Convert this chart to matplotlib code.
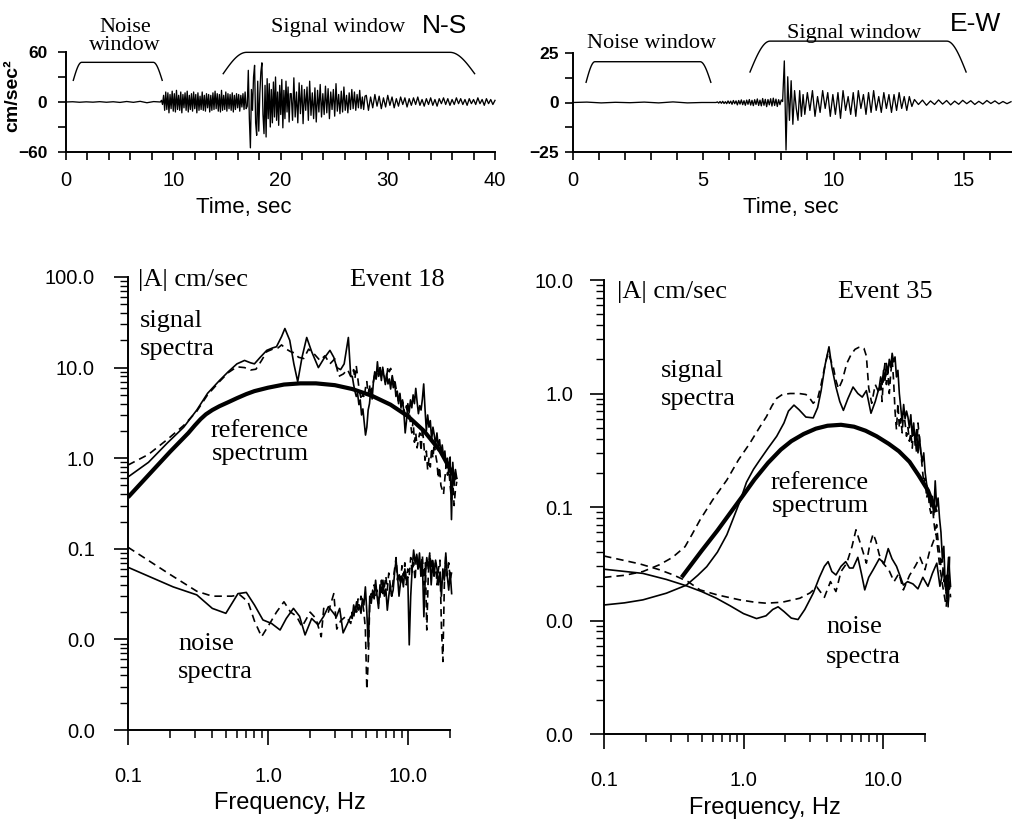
import numpy as np
import matplotlib
matplotlib.use("Agg")
import matplotlib.pyplot as plt
from matplotlib.ticker import FixedLocator, FormatStrFormatter, NullFormatter

# ----------------------------------------------------------------- data
# N-S accelerogram (cm/sec^2): segments [t_start, t_end] with read values
ns_seg_t = [(0.0, 8.8), (8.8, 16.9), (16.9, 21.0), (21.0, 28.0), (28.0, 40.0)]
ns_seg_v = [
    [0, 0.3, -0.3, 0.2, -0.2, 0.4, -0.3, 0.3, -0.5, 0.6, -0.4, 0.8, -0.9, 0.5],
    [0, 2, -3, 8, -10, 12, -9, 11, -13, 9, -8, 13, -11, 10, -12, 14, -9, 8, -10, 12,
     -13, 9, -7, 11, -10, 13, -12, 8, -9, 10, -11, 12, -8, 9, -13, 11, -10, 7, -9, 12,
     -10, 8, -11, 10, -7, 9, -12, 8, -10, 11, -9, 13, -8, 10, -11, 9, -12, 14, -10, 8,
     -9, 12, -11, 10, -8, 9, -10, 11, -12, 8, -9, 10, -7, 9, -11, 8, -6, 10, -9, 12, -8],
    [-5, 38, -20, -55, 15, -10, 30, 44, -25, -40, 25, -35, 10, 36, 47, -15, -38, 20,
     -42, 28, -20, 22, -30, 15, -25, 24, -18, 30, -22, 12, -28, 20, -15, 27, -31, 14,
     -20, 25, -12, 18, -24, 10],
    [10, -22, 29, -18, 12, -25, 23, -14, 20, -26, 15, -10, 18, -22, 25, -16, 11, -20,
     17, -24, 14, -12, 21, -18, 10, -15, 19, -13, 16, -20, 12, -9, 15, -17, 22, -11, 9,
     -14, 13, -12, 18, -10, 8, -13, 11, -9, 15, -8, 12, -10, 9, -7, 14, -8, 6, -9, 7],
    [8, -10, 6, -7, 9, -5, 7, -8, 5, -6, 8, -4, 6, -7, 4, -5, 6, -3, 5, -6, 4, -4, 5,
     -3, 6, -4, 3, -5, 4, -3, 5, -4, 3, -5, 4, -2, 5, -3, 4, -4, 3, -3, 5, -2, 4, -3,
     3, -4, 4, -2, 3, -3, 5, -2, 3, -4, 4, -2, 3, -3, 2],
]
# E-W accelerogram
ew_seg_t = [(0.0, 5.5), (5.5, 8.05), (8.05, 8.9), (8.9, 13.1), (13.1, 16.8)]
ew_seg_v = [
    [0, 0.2, -0.2, 0.1, -0.1, 0.2, -0.2, 0.3, -0.2, 0],
    [0, .3, -.3, .5, -.4, .6, -.5, .4, -.6, .8, -.5, .7, -.9, 1.0, -.6, .8, -1.2, 1.0,
     -.8, 1.3, -1.1, .9, -1.4, 1.2, -.9, 1.5, -1.3, 1.1, -1.6, 1.4, -1.0, 1.8, -1.5,
     1.2, -1.7, 2.0, -1.4, 1.6, -2.1, 1.5, -1.2, 1.9, -1.8, 2.2, -1.5, 1.7, -2.0, 1.4,
     -1.1, 1.3],
    [0.5, 21, -24, 13, -9, 11, -11, 6, -3, -9, 6, -7, 4],
    [-6, 5, -4, 6, -7, 3, -5, 6, -3, 5, -7, 4, -6, 5, -8, 6, -4, 3, -6, 5, -7, 6, -3,
     4, -6, 5, -5, 6, -4, 3, -5, 5, -3, 4, -5, 4, -4, 5, -3, 3, -4, 3, -2],
    [1.5, -1, 1.2, -1.4, 0.8, -1, 1.3, -0.8, 1, -1.2, 0.7, -0.9, 1.1, -0.6, 0.9, -1,
     0.6, -0.8, 1, -0.5, 0.8, -0.7, 0.5, -0.6, 0.4],
]
# taper windows: (t_start, t_top_start, t_top_end, t_end, low, high)
ns_noise_win = (0.68, 1.46, 8.14, 8.97, 26.0, 47.6)
ns_signal_win = (14.66, 16.84, 35.8, 38.1, 34.0, 59.6)
ew_noise_win = (0.52, 0.86, 4.89, 5.3, 10.2, 20.6)
ew_signal_win = (6.8, 7.57, 14.34, 15.08, 15.4, 31.0)

# ---- Event 18 spectra
ref18_f = [0.1, 0.15, 0.2, 0.27, 0.3, 0.33, 0.36, 0.4, 0.45, 0.52, 0.6, 0.7, 0.8, 1.0,
           1.3, 1.7, 2.2, 3.0, 4.0, 5.5, 7.5, 10, 13, 17, 22]
ref18_a = [0.37, 0.73, 1.18, 1.9, 2.3, 2.7, 3.05, 3.4, 3.75, 4.15, 4.6, 5.1, 5.5, 6.0,
           6.5, 6.7, 6.7, 6.4, 5.8, 4.9, 3.9, 2.9, 2.0, 1.2, 0.58]

sig18_solid_f = [0.1, 0.14, 0.19, 0.25, 0.31, 0.37, 0.45, 0.52, 0.6, 0.68, 0.75, 0.8,
                 0.88, 0.98, 1.08, 1.15, 1.25, 1.32, 1.43, 1.53, 1.63, 1.75, 1.89,
                 2.05, 2.29, 2.5, 2.77, 2.95, 3.1, 3.3, 3.5, 3.75, 3.9]
sig18_solid_a = [0.62, 0.9, 1.46, 2.2, 3.4, 5.2, 7.2, 9.0, 11.0, 12.0, 11.3, 11.0,
                 13.0, 15.5, 16.5, 17.0, 22.0, 27.0, 20.0, 11.0, 7.0, 13.0, 21.5,
                 15.0, 10.0, 12.5, 15.5, 13.0, 10.0, 9.5, 11.0, 21.5, 8.0]
sig18_solid_hi = [8, 6.5, 5.5, 4.8, 5.2, 3.9, 4.4, 3.0, 3.5, 2.5,
                  1.8, 2.2, 3.4, 4.0, 5.7, 4.5, 7.0, 9.0, 7.5, 11.6,
                  8.0, 9.5, 7.2, 10.1, 8.0, 6.5, 8.5, 6.6, 7.5, 5.8,
                  7.9, 6.0, 7.0, 4.8, 5.5, 4.0, 5.2, 3.8, 4.4, 3.2,
                  1.9, 2.6, 4.0, 3.2, 4.4, 3.6, 5.0, 4.0, 5.9, 4.2,
                  3.1, 3.8, 3.4, 4.5, 6.6, 3.5, 2.0, 3.0, 2.2, 2.6,
                  1.6, 2.2, 1.8, 1.4, 1.9, 1.33, 1.6, 1.1, 1.4, 1.03,
                  1.2, 0.8, 1.0, 0.7, 1.03, 0.21, 0.9, 0.5, 0.75, 0.6]
sig18_dash_f = [0.1, 0.14, 0.19, 0.25, 0.31, 0.37, 0.45, 0.52, 0.6, 0.68, 0.75, 0.82,
                0.9, 0.98, 1.08, 1.18, 1.25, 1.35, 1.45, 1.55, 1.65, 1.8, 1.95, 2.15,
                2.35, 2.55, 2.77, 3.0, 3.2, 3.45, 3.7, 3.9]
sig18_dash_a = [0.84, 1.1, 1.6, 2.3, 3.3, 5.0, 7.0, 8.8, 10.2, 10.0, 9.4, 9.6, 12.0,
                15.0, 16.0, 16.5, 17.8, 16.0, 15.0, 14.5, 13.0, 12.6, 16.0, 14.0,
                12.0, 13.5, 11.0, 12.5, 8.0, 8.5, 9.5, 8.0]
sig18_dash_hi = [8.0, 9.5, 7.5, 10.5, 8.0, 6.0, 5.0, 4.4, 5.2, 4.6,
                 6.0, 7.0, 5.0, 6.5, 4.8, 6.2, 7.0, 8.5, 7.5, 9.0,
                 8.8, 10.0, 8.0, 9.5, 8.5, 7.0, 8.0, 10.3, 9.0, 9.8,
                 8.5, 7.0, 7.5, 6.0, 5.2, 4.0, 5.0, 3.4, 4.2, 3.5,
                 3.0, 3.8, 2.8, 3.3, 2.4, 1.9, 2.6, 1.5, 1.9, 1.3,
                 1.6, 1.9, 1.2, 2.2, 1.5, 0.95, 1.2, 0.74, 1.0, 0.8,
                 1.3, 1.0, 1.5, 1.1, 0.9, 0.6, 0.8, 0.5, 0.45, 0.4,
                 0.6, 0.85, 0.65, 0.75, 0.5, 0.35, 0.55, 0.3, 0.45, 0.55]
sig18_hi_band = (4.0, 22.3)

noi18_solid_f = [0.1, 0.21, 0.31, 0.4, 0.5, 0.61, 0.7, 0.8, 0.92, 1.06, 1.22, 1.35,
                 1.52, 1.68, 1.84, 2.05, 2.28, 2.5, 2.7, 2.9, 3.08, 3.25, 3.44, 3.7]
noi18_solid_a = [0.0625, 0.038, 0.031, 0.022, 0.0194, 0.032, 0.033, 0.024, 0.0164,
                 0.015, 0.0127, 0.017, 0.022, 0.018, 0.0112, 0.017, 0.0145, 0.018,
                 0.023, 0.02, 0.0177, 0.022, 0.0118, 0.015]
noi18_solid_hi = [0.018, 0.017, 0.024, 0.02, 0.026, 0.021, 0.023, 0.0194, 0.028, 0.024,
                  0.038, 0.02, 0.0083, 0.03, 0.025, 0.035, 0.028, 0.045, 0.03, 0.022,
                  0.04, 0.033, 0.045, 0.03, 0.036, 0.021, 0.03, 0.04, 0.03, 0.035,
                  0.055, 0.075, 0.05, 0.03, 0.042, 0.05, 0.038, 0.06, 0.045, 0.049,
                  0.0087, 0.03, 0.06, 0.097, 0.07, 0.085, 0.06, 0.09, 0.05, 0.07,
                  0.0178, 0.05, 0.08, 0.06, 0.085, 0.04, 0.07, 0.05, 0.075, 0.06,
                  0.04, 0.055, 0.03, 0.06, 0.045, 0.09, 0.05, 0.035, 0.055, 0.032]
noi18_dash_f = [0.1, 0.2, 0.31, 0.4, 0.55, 0.63, 0.72, 0.8, 0.9, 1.03, 1.15, 1.3,
                1.45, 1.6, 1.75, 2.0, 2.2, 2.4, 2.5, 2.7, 2.95, 3.1, 3.3, 3.6]
noi18_dash_a = [0.104, 0.052, 0.034, 0.03, 0.03, 0.031, 0.026, 0.016, 0.0107, 0.015,
                0.02, 0.026, 0.02, 0.018, 0.0138, 0.02, 0.017, 0.0107, 0.022, 0.02,
                0.032, 0.013, 0.016, 0.018]
noi18_dash_hi = [0.015, 0.02, 0.017, 0.024, 0.02, 0.028, 0.022, 0.03, 0.026, 0.02,
                 0.013, 0.0028, 0.006, 0.025, 0.032, 0.028, 0.04, 0.03, 0.035, 0.025,
                 0.03, 0.045, 0.032, 0.038, 0.05, 0.035, 0.054, 0.04, 0.03, 0.045,
                 0.06, 0.08, 0.045, 0.055, 0.04, 0.065, 0.05, 0.07, 0.04, 0.06,
                 0.05, 0.08, 0.055, 0.07, 0.045, 0.09, 0.06, 0.075, 0.05, 0.085,
                 0.04, 0.07, 0.0127, 0.05, 0.09, 0.06, 0.08, 0.05, 0.07, 0.04,
                 0.06, 0.075, 0.0138, 0.0057, 0.04, 0.085, 0.05, 0.07, 0.045, 0.055]
noi18_hi_band = (3.9, 20.5)

# ---- Event 35 spectra
ref35_f = [0.36, 0.5, 0.65, 0.8, 1.0, 1.2, 1.5, 1.85, 2.2, 2.7, 3.3, 4.0, 5.0, 6.2,
           7.5, 9.0, 11, 13, 15.5, 18, 21, 24]
ref35_a = [0.024, 0.041, 0.062, 0.088, 0.128, 0.175, 0.245, 0.32, 0.38, 0.44, 0.49,
           0.52, 0.53, 0.51, 0.47, 0.42, 0.36, 0.31, 0.25, 0.19, 0.14, 0.09]

sig35_solid_f = [0.1, 0.14, 0.19, 0.28, 0.39, 0.47, 0.545, 0.65, 0.76, 0.84, 0.95,
                 1.05, 1.18, 1.31, 1.5, 1.73, 1.95, 2.1, 2.3, 2.5, 2.8, 3.16, 3.4, 3.6,
                 3.85, 4.1, 4.3, 4.6, 4.9, 5.2, 5.6, 6.1, 6.6, 7.1, 7.6, 8.2, 8.8]
sig35_solid_a = [0.0137, 0.0143, 0.0152, 0.0174, 0.0205, 0.025, 0.0298, 0.04, 0.057,
                 0.078, 0.115, 0.165, 0.215, 0.26, 0.33, 0.42, 0.55, 0.7, 0.79, 0.72,
                 0.62, 0.61, 0.75, 1.06, 1.8, 2.58, 1.7, 1.14, 0.85, 0.71, 0.9, 1.14,
                 1.0, 0.93, 1.06, 0.67, 0.85]
sig35_solid_hi = [1.14, 1.4, 1.2, 1.6, 1.3, 1.84, 1.5, 2.0, 1.7, 2.26,
                  1.9, 2.1, 1.4, 1.6, 1.0, 0.75, 0.55, 0.8, 0.6, 0.7,
                  0.62, 0.5, 0.65, 0.42, 0.55, 0.35, 0.48, 0.3, 0.42, 0.3,
                  0.25, 0.3, 0.2, 0.16, 0.14, 0.12, 0.1, 0.124, 0.085, 0.17,
                  0.1, 0.12, 0.08, 0.06, 0.035, 0.045, 0.02, 0.025, 0.0132, 0.036]
sig35_dash_f = [0.1, 0.14, 0.19, 0.25, 0.31, 0.381, 0.43, 0.488, 0.6, 0.76, 0.92,
                1.11, 1.3, 1.46, 1.6, 1.73, 1.9, 2.16, 2.5, 2.8, 3.0, 3.16, 3.4, 3.6,
                3.85, 4.04, 4.2, 4.4, 4.6, 4.8, 5.1, 5.5, 5.9, 6.3, 6.7, 7.0, 7.3, 7.6,
                7.9, 8.3, 8.8]
sig35_dash_a = [0.024, 0.025, 0.027, 0.031, 0.036, 0.0447, 0.058, 0.077, 0.115, 0.173,
                0.26, 0.364, 0.5, 0.625, 0.78, 0.907, 0.98, 1.0, 1.0, 0.98, 0.9, 0.82,
                0.9, 1.2, 1.8, 2.3, 2.0, 1.72, 1.3, 1.1, 1.3, 1.84, 2.2, 2.45, 2.55,
                2.58, 2.5, 2.14, 1.12, 0.82, 1.2]
sig35_dash_hi = [1.0, 1.3, 0.85, 1.5, 1.84, 1.2, 1.6, 1.0, 1.5, 2.0,
                 1.3, 0.7, 0.48, 0.82, 0.5, 0.6, 0.45, 0.7, 0.55, 0.42,
                 0.5, 0.38, 0.45, 0.33, 0.5, 0.42, 0.3, 0.55, 0.4, 0.3,
                 0.22, 0.162, 0.18, 0.12, 0.14, 0.1, 0.088, 0.11, 0.075, 0.06,
                 0.07, 0.05, 0.04, 0.03, 0.035, 0.022, 0.025, 0.015, 0.0142, 0.02]
sig35_hi_band = (9.4, 30.0)

noi35_solid_f = [0.1, 0.19, 0.28, 0.39, 0.5, 0.64, 0.8, 1.0, 1.24, 1.45, 1.62, 1.77,
                 1.95, 2.2, 2.46, 2.75, 3.16, 3.5, 3.8, 4.04, 4.3, 4.6, 5.0, 5.4, 5.75,
                 6.1, 6.6, 7.0, 7.4, 7.9, 8.5, 9.4, 10.2, 10.9, 11.6, 12.5, 13.2, 14.0,
                 15.0, 16.4, 17.8, 19.3, 21.0, 22.6, 24.3, 25.6, 27.0, 28.4, 29.5, 30.5]
noi35_solid_a = [0.0283, 0.026, 0.023, 0.0202, 0.018, 0.0157, 0.0135, 0.0115, 0.0104,
                 0.011, 0.0125, 0.0132, 0.012, 0.0105, 0.0102, 0.0125, 0.0174, 0.024,
                 0.03, 0.033, 0.027, 0.0252, 0.03, 0.033, 0.029, 0.029, 0.036, 0.026,
                 0.0186, 0.024, 0.028, 0.035, 0.032, 0.043, 0.035, 0.03, 0.025, 0.0205,
                 0.022, 0.021, 0.019, 0.024, 0.02, 0.026, 0.032, 0.02, 0.028, 0.0174,
                 0.036, 0.02]
noi35_dash_f = [0.1, 0.181, 0.25, 0.314, 0.4, 0.488, 0.65, 0.94, 1.2, 1.46, 1.9, 2.53,
                3.0, 3.35, 3.8, 4.2, 4.6, 5.0, 5.5, 6.0, 6.4, 6.8, 7.2, 7.6, 8.0, 8.5,
                8.9, 9.4, 10.0, 11.0, 12.0, 13.0, 14.0, 15.5, 17.0, 18.4, 20.0, 21.5,
                23.0, 24.0, 25.5, 27.0, 28.4, 29.5, 30.5]
noi35_dash_a = [0.037, 0.0315, 0.028, 0.0252, 0.022, 0.0186, 0.0168, 0.0152, 0.0145,
                0.0142, 0.0145, 0.0157, 0.0175, 0.0198, 0.016, 0.022, 0.018, 0.027,
                0.032, 0.045, 0.063, 0.05, 0.04, 0.032, 0.045, 0.058, 0.05, 0.038,
                0.032, 0.028, 0.022, 0.026, 0.0186, 0.025, 0.03, 0.036, 0.028, 0.04,
                0.05, 0.058, 0.03, 0.019, 0.0132, 0.025, 0.016]

time_ticks_ns = [0, 10, 20, 30, 40]
time_ticks_ew = [0, 5, 10, 15]
freq_ticks = [0.1, 1.0, 10.0]

# ----------------------------------------------------------------- figure
W, H = 1014, 824
plt.rcParams['font.family'] = ['Liberation Sans', 'DejaVu Sans']
SERIF = ['Liberation Serif', 'DejaVu Serif']
fig = plt.figure(figsize=(W / 100, H / 100), dpi=100)
fig.patch.set_facecolor('white')


def ax_px(left, top, right, bottom):
    return fig.add_axes([left / W, 1 - bottom / H, (right - left) / W, (bottom - top) / H])


def ftext(x, y, s, **kw):
    fig.text(x / W, 1 - y / H, s, **kw)


def style(ax):
    for s in ('top', 'right'):
        ax.spines[s].set_visible(False)
    for s in ('left', 'bottom'):
        ax.spines[s].set_linewidth(1.4)
        ax.spines[s].set_color('black')
    ax.set_facecolor('none')


def trace(seg_t, seg_v):
    ts, vs = [], []
    for i, ((t0, t1), v) in enumerate(zip(seg_t, seg_v)):
        last = i == len(seg_t) - 1
        ts.append(np.linspace(t0, t1, len(v), endpoint=last))
        vs.append(np.asarray(v, float))
    return np.concatenate(ts), np.concatenate(vs)


def window(ax, w):
    t0, t1, t2, t3, lo, hi = w
    s = np.linspace(0, 1, 40)
    up_t = t0 + (t1 - t0) * s
    up_v = lo + (hi - lo) * np.sin(np.pi / 2 * s)
    dn_t = t2 + (t3 - t2) * s
    dn_v = lo + (hi - lo) * np.cos(np.pi / 2 * s)
    ax.plot(np.concatenate([up_t, dn_t]), np.concatenate([up_v, dn_v]),
            color='black', lw=1.0, clip_on=False)


def top_panel(ax, seg_t, seg_v, xlim, ylim, xmaj, xmin, ymaj, ymin, ypad):
    style(ax)
    t, v = trace(seg_t, seg_v)
    ax.plot(t, v, color='black', lw=0.95, clip_on=False)
    ax.set_xlim(*xlim)
    ax.set_ylim(*ylim)
    ax.xaxis.set_major_locator(FixedLocator(xmaj))
    ax.xaxis.set_minor_locator(FixedLocator(xmin))
    ax.yaxis.set_major_locator(FixedLocator(ymaj))
    ax.yaxis.set_minor_locator(FixedLocator(ymin))
    ax.tick_params(axis='x', which='both', direction='out', length=6, width=1.2, pad=8,
                   labelsize=14.5)
    ax.tick_params(axis='y', which='both', direction='out', length=5.5, width=1.2,
                   pad=ypad, labelsize=12.5)
    for lab in ax.get_yticklabels():
        lab.set_fontweight('bold')


# ---- top-left N-S
axA = ax_px(66, 52, 495, 152)
top_panel(axA, ns_seg_t, ns_seg_v, (0, 40), (-60, 60), time_ticks_ns,
          list(range(2, 40, 2)), [-60, 0, 60], [-30, 30], 8)
window(axA, ns_noise_win)
window(axA, ns_signal_win)
axA.set_xlabel('Time, sec', fontsize=16)
axA.xaxis.set_label_coords(244 / W, 1 - 208 / H, transform=fig.transFigure)
axA.xaxis.label.set_va('center')
axA.set_ylabel('cm/sec²', fontsize=14, fontweight='bold')
axA.yaxis.set_label_coords(13 / W, 1 - 96 / H, transform=fig.transFigure)
axA.yaxis.label.set_va('center')

# ---- top-right E-W
axB = ax_px(572.5, 53, 1011, 152)
top_panel(axB, ew_seg_t, ew_seg_v, (0, 16.8), (-25, 25), time_ticks_ew,
          list(range(1, 17)), [-25, 0, 25], [-12.5, 12.5], 4)
window(axB, ew_noise_win)
window(axB, ew_signal_win)
axB.set_xlabel('Time, sec', fontsize=16)
axB.xaxis.set_label_coords(791 / W, 1 - 208 / H, transform=fig.transFigure)
axB.xaxis.label.set_va('center')

# top texts
ser_kw = dict(family=SERIF, fontsize=16, ha='center', va='baseline')
ftext(125, 32, 'Noise', **ser_kw)
ftext(125, 50, 'window', **ser_kw)
ftext(338, 32, 'Signal window', **ser_kw)
ftext(444, 33, 'N-S', fontsize=19, ha='center', va='baseline')
ftext(652, 48, 'Noise window', **ser_kw)
ftext(854, 38, 'Signal window', **ser_kw)
ftext(976, 31, 'E-W', fontsize=19, ha='center', va='baseline')


def spec_line(ax, f_lo, a_lo, hi=None, band=None, dashed=False):
    f = list(f_lo)
    a = list(a_lo)
    if hi is not None:
        f += list(np.geomspace(band[0], band[1], len(hi)))
        a += list(hi)
    ls = (0, (4.5, 3)) if dashed else '-'
    ax.plot(f, a, color='black', lw=1.2, ls=ls, clip_on=False)


def bottom_panel(ax, xlim, ylim, ypad):
    style(ax)
    ax.set_xscale('log')
    ax.set_yscale('log')
    ax.set_xlim(*xlim)
    ax.set_ylim(*ylim)
    ax.spines['bottom'].set_bounds(0.1, 20)
    ax.xaxis.set_major_locator(FixedLocator(freq_ticks))
    ax.xaxis.set_major_formatter(FormatStrFormatter('%.1f'))
    minors = [k * 0.1 for k in range(2, 10)] + [float(k) for k in range(2, 10)] + [20.0]
    ax.xaxis.set_minor_locator(FixedLocator(minors))
    ax.xaxis.set_minor_formatter(NullFormatter())
    lo, hi = ylim
    decs = [10.0 ** e for e in range(int(round(np.log10(lo))), int(round(np.log10(hi))) + 1)]
    ax.yaxis.set_major_locator(FixedLocator(decs))
    ax.yaxis.set_major_formatter(FormatStrFormatter('%.1f'))
    ymin = [d * k for d in decs[:-1] for k in range(2, 10)]
    ax.yaxis.set_minor_locator(FixedLocator(ymin))
    ax.yaxis.set_minor_formatter(NullFormatter())
    ax.tick_params(axis='x', which='major', direction='out', length=11, width=1.2,
                   pad=16, labelsize=14.5)
    ax.tick_params(axis='x', which='minor', direction='out', length=6, width=1.1)
    ax.tick_params(axis='y', which='major', direction='out', length=10, width=1.2,
                   pad=ypad, labelsize=14.5)
    ax.tick_params(axis='y', which='minor', direction='out', length=6, width=1.0)
    ax.set_xlabel('Frequency, Hz', fontsize=17)


# ---- bottom-left Event 18
axC = ax_px(128, 277, 128 + 140 * np.log10(230), 730)
bottom_panel(axC, (0.1, 23), (0.001, 100), 14)
axC.plot(ref18_f, ref18_a, color='black', lw=3.0, solid_capstyle='butt')
spec_line(axC, sig18_solid_f, sig18_solid_a, sig18_solid_hi, sig18_hi_band)
spec_line(axC, sig18_dash_f, sig18_dash_a, sig18_dash_hi, sig18_hi_band, dashed=True)
spec_line(axC, noi18_solid_f, noi18_solid_a, noi18_solid_hi, noi18_hi_band)
spec_line(axC, noi18_dash_f, noi18_dash_a, noi18_dash_hi, noi18_hi_band, dashed=True)
axC.xaxis.set_label_coords(290 / W, 1 - 803 / H, transform=fig.transFigure)
axC.xaxis.label.set_va('center')

# ---- bottom-right Event 35
axD = ax_px(604, 280, 604 + 139.5 * np.log10(320), 734)
bottom_panel(axD, (0.1, 32), (0.001, 10), 12)
axD.plot(ref35_f, ref35_a, color='black', lw=3.0, solid_capstyle='butt')
spec_line(axD, sig35_solid_f, sig35_solid_a, sig35_solid_hi, sig35_hi_band)
spec_line(axD, sig35_dash_f, sig35_dash_a, sig35_dash_hi, sig35_hi_band, dashed=True)
spec_line(axD, noi35_solid_f, noi35_solid_a)
spec_line(axD, noi35_dash_f, noi35_dash_a, dashed=True)
axD.xaxis.set_label_coords(765 / W, 1 - 808 / H, transform=fig.transFigure)
axD.xaxis.label.set_va('center')

# annotations
ann = dict(family=SERIF, fontsize=19, ha='left', va='baseline')
ftext(138, 286, '|A| cm/sec', **ann)
ftext(350, 286, 'Event 18', **ann)
ftext(140, 327, 'signal', **ann)
ftext(140, 355, 'spectra', **ann)
ftext(211, 437, 'reference', **ann)
ftext(212, 460, 'spectrum', **ann)
ftext(178, 650, 'noise', **ann)
ftext(178, 678, 'spectra', **ann)

ftext(617, 298, '|A| cm/sec', **ann)
ftext(838, 298, 'Event 35', **ann)
ftext(661, 377, 'signal', **ann)
ftext(661, 405, 'spectra', **ann)
ftext(771, 489, 'reference', **ann)
ftext(772, 512, 'spectrum', **ann)
ftext(826, 633, 'noise', **ann)
ftext(826, 663, 'spectra', **ann)

fig.savefig('out.png', dpi=100, facecolor='white')
